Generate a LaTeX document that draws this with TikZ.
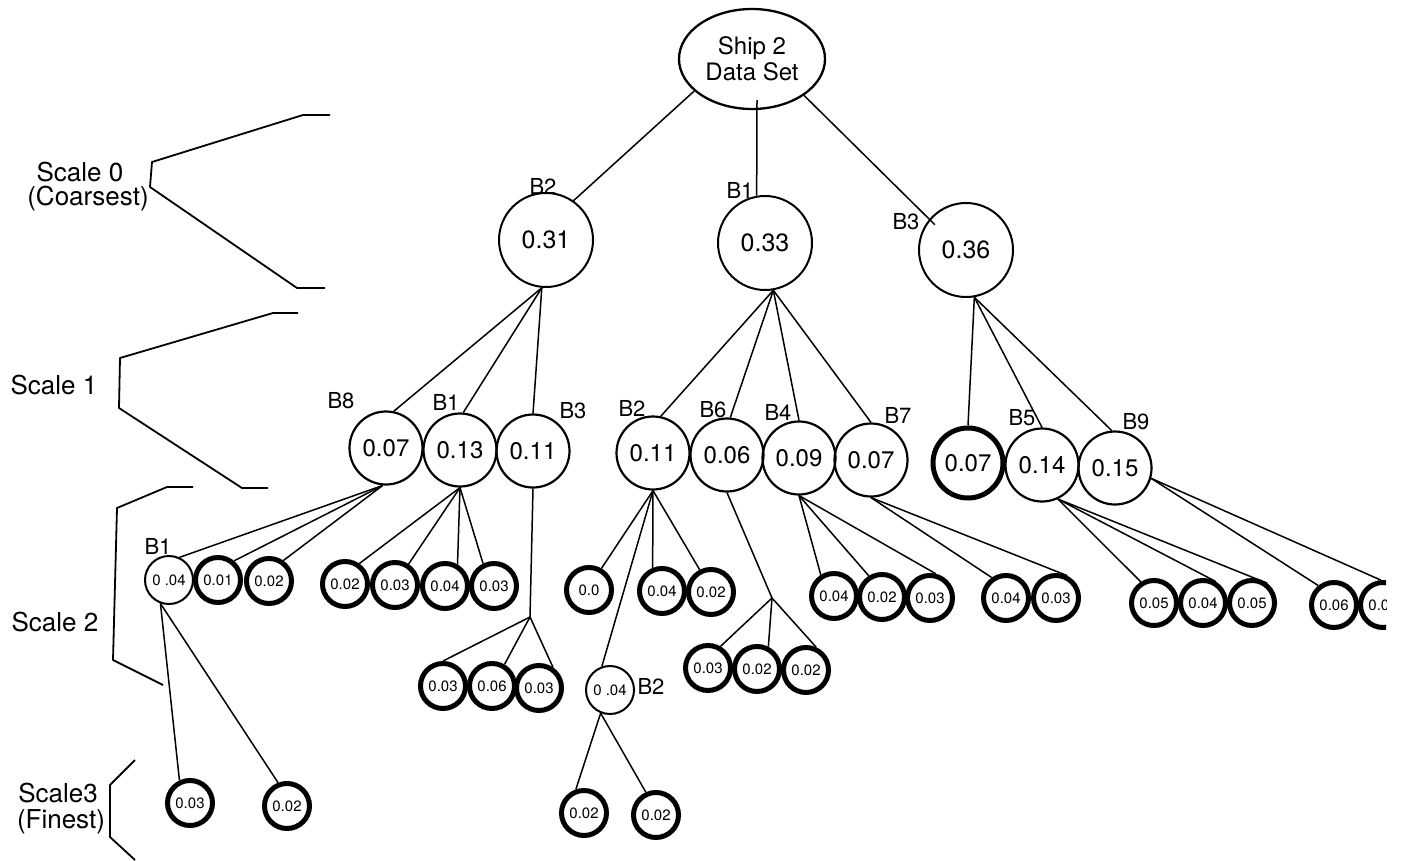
\documentclass[tikz,border=0pt]{standalone}
\usepackage{fontspec}
\setmainfont{TeX Gyre Heros}
\usetikzlibrary{shapes.geometric}
\begin{document}
\begin{tikzpicture}[x=1pt,y=-1pt,
  every node/.style={inner sep=0pt},
  rootst/.style={ellipse,draw,line width=2.3pt,minimum width=146pt,minimum height=100pt,align=center,font=\fontsize{24}{26}\selectfont},
  sc0/.style={circle,draw,line width=2pt,minimum size=94pt,font=\fontsize{25}{28}\selectfont},
  sc1/.style={circle,draw,line width=2.2pt,minimum size=73pt,font=\fontsize{24}{28}\selectfont},
  sc2/.style={circle,draw,line width=5pt,minimum size=45pt,font=\fontsize{15}{17}\selectfont},
  thickc/.style={line width=5pt,minimum size=70pt},
  thinc/.style={line width=2pt,minimum size=48pt},
  blab/.style={font=\fontsize{22}{24}\selectfont},
  slab/.style={font=\fontsize{26}{28}\selectfont},
  conn/.style={line width=1.5pt},
  brk/.style={line width=1.8pt,line join=round}]
\useasboundingbox (0,0) rectangle (1402,861);
\begin{scope}
\clip (0,0) rectangle (1386,861);
% root
\node[rootst] (root) at (752,59) {Ship 2\\Data Set};
% scale 0
\node[sc0] (A) at (546,240) {0.31};
\node[sc0] (B) at (765,243) {0.33};
\node[sc0] (C) at (966,250) {0.36};
\node[blab] (lA) at (543,186) {B2};
\node[blab] (lB) at (740,190) {B1};
\node[blab] (lC) at (906,222) {B3};
% scale 1
\node[sc1] (A1) at (386,448) {0.07};
\node[sc1] (A2) at (460,450) {0.13};
\node[sc1] (A3) at (533,451) {0.11};
\node[sc1] (B1n) at (653,453) {0.11};
\node[sc1] (B2n) at (727,455) {0.06};
\node[sc1] (B3n) at (799,458) {0.09};
\node[sc1] (B4n) at (871,460) {0.07};
\node[sc1,thickc] (C1) at (968,463) {0.07};
\node[sc1] (C2) at (1042,465) {0.14};
\node[sc1] (C3) at (1115,468) {0.15};
\node[blab] (lA1) at (341,401) {B8};
\node[blab] (lA2) at (446,402) {B1};
\node[blab] (lA3) at (573,411) {B3};
\node[blab] (lB1) at (632,408) {B2};
\node[blab] (lB2) at (713,410) {B6};
\node[blab] (lB3) at (778,412) {B4};
\node[blab] (lB4) at (898,415) {B7};
\node[blab] (lC2) at (1022,418) {B5};
\node[blab] (lC3) at (1136,422) {B9};
% scale 2
\node[sc2,thinc] (d1) at (169,580) {0 .04};
\node[sc2] (d2) at (218,580) {0.01};
\node[sc2] (d3) at (269,581) {0.02};
\node[blab] (ld1) at (158,546) {B1};
\node[sc2] (e1) at (345,584) {0.02};
\node[sc2] (e2) at (395,585) {0.03};
\node[sc2] (e3) at (445,586) {0.04};
\node[sc2] (e4) at (494,586) {0.03};
\coordinate (J1) at (530,617);
\node[sc2] (f1) at (443,686) {0.03};
\node[sc2] (f2) at (492,686) {0.06};
\node[sc2] (f3) at (539,688) {0.03};
\node[sc2] (g1) at (589,590) {0.0};
\node[sc2,thinc] (g2) at (610,690) {0 .04};
\node[blab] (lg2) at (651,686) {B2};
\node[sc2] (g3) at (662,591) {0.04};
\node[sc2] (g4) at (711,592) {0.02};
\coordinate (J2) at (772,598);
\node[sc2] (h1) at (708,668) {0.03};
\node[sc2] (h2) at (757,669) {0.02};
\node[sc2] (h3) at (806,670) {0.02};
\node[sc2] (k1) at (834,596) {0.04};
\node[sc2] (k2) at (882,597) {0.02};
\node[sc2] (k3) at (930,598) {0.03};
\node[sc2] (m1) at (1006,598) {0.04};
\node[sc2] (m2) at (1056,598) {0.03};
\node[sc2] (n1) at (1154,603) {0.05};
\node[sc2] (n2) at (1203,603) {0.04};
\node[sc2] (n3) at (1252,603) {0.05};
\node[sc2] (p1) at (1334,605) {0.06};
\node[sc2] (p2) at (1383,605) {0.05};
% scale 3
\node[sc2] (q1) at (190,803) {0.03};
\node[sc2] (q2) at (287,806) {0.02};
\node[sc2] (r1) at (584,813) {0.02};
\node[sc2] (r2) at (656,815) {0.02};
% connectors root
\draw[conn] (root.209) -- (A.55);
\draw[conn] ([xshift=5pt,yshift=10pt]root.south) -- (B.100);
\draw[conn,shorten >=-8pt] (root.325) -- (C.140);
% scale0 -> scale1
\draw[conn] (A.265) -- (A1.78);
\draw[conn] (A.265) -- (A2.85);
\draw[conn] (A.265) -- (A3.north);
\draw[conn] (B.280) -- (B1n.78);
\draw[conn] (B.280) -- (B2n.85);
\draw[conn] (B.280) -- (B3n.north);
\draw[conn] (B.280) -- (B4n.north);
\draw[conn] (C.280) -- (C1.north);
\draw[conn] (C.280) -- (C2.north);
\draw[conn] (C.280) -- (C3.95);
% scale1 -> scale2
\draw[conn] (A1.265) -- (d1.65);
\draw[conn] (A1.265) -- (d2.50);
\draw[conn] (A1.265) -- (d3.55);
\draw[conn] (A2.south) -- (e1.55);
\draw[conn] (A2.south) -- (e2.57);
\draw[conn] (A2.south) -- (e3.60);
\draw[conn] (A2.south) -- (e4.116);
\draw[conn] (A3.south) -- (J1);
\draw[conn] (J1) -- (f1.north);
\draw[conn] (J1) -- (f2.60);
\draw[conn] (J1) -- (f3.56);
\draw[conn] (B1n.south) -- (g1.60);
\draw[conn] (B1n.south) -- (g2.109);
\draw[conn] (B1n.south) -- (g3.112);
\draw[conn] (B1n.south) -- (g4.117);
\draw[conn] (B2n.south) -- (J2);
\draw[conn] (J2) -- (h1.60);
\draw[conn] (J2) -- (h2.63);
\draw[conn] (J2) -- (h3.66);
\draw[conn] (B3n.south) -- (k1.122);
\draw[conn] (B3n.south) -- (k2.122);
\draw[conn] (B3n.south) -- (k3.77);
\draw[conn] (B4n.south) -- (m1.125);
\draw[conn] (B4n.south) -- (m2.63);
\draw[conn] (C2.295) -- (n1.122);
\draw[conn] (C2.295) -- (n2.59);
\draw[conn] (C2.295) -- (n3.52);
\draw[conn] (C3.344) -- (p1.129);
\draw[conn] (C3.344) -- (p2.95);
% scale2 -> scale3
\draw[conn] (d1.250) -- (q1.115);
\draw[conn] (d1.250) -- (q2.111);
\draw[conn] (g2.248) -- (r1.109);
\draw[conn] (g2.248) -- (r2.114);
\end{scope}
% brackets and scale labels
\draw[brk] (330,115) -- (303,115) -- (152,162) -- (150,187) -- (297,288) -- (325,288);
\draw[brk] (298,313) -- (273,313) -- (120,358) -- (119,408) -- (242,488) -- (268,488);
\draw[brk] (193,487) -- (167,487) -- (117,508) -- (113,660) -- (163,685);
\draw[brk] (135,760) -- (110,785) -- (110,837) -- (135,860);
\node[slab] (s0) at (80,172) {Scale 0};
\node[slab] (s0b) at (88,199) {(Coarsest)};
\node[slab] (s1) at (54,385) {Scale 1};
\node[slab] (s2) at (55,622) {Scale 2};
\node[slab] (s3) at (58,793) {Scale3};
\node[slab] (s3b) at (61,822) {(Finest)};
\end{tikzpicture}
\end{document}
